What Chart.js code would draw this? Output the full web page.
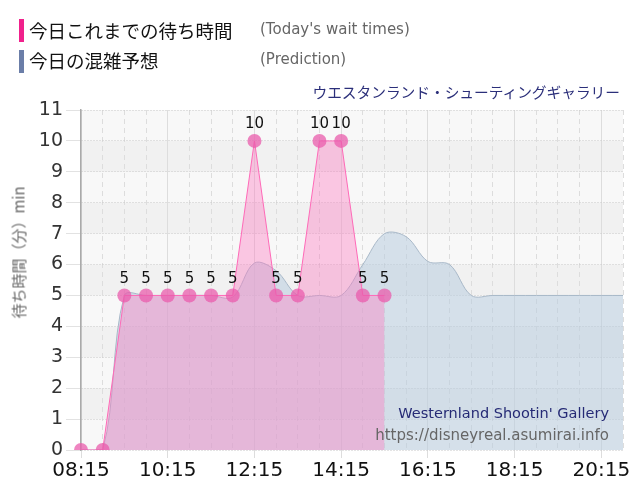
<!DOCTYPE html>
<html>
<head>
<meta charset="utf-8">
<script src="https://cdn.jsdelivr.net/npm/chart.js@4"></script>
<style>
  body { margin: 0; width: 640px; height: 500px; position: relative; background: #fff; overflow: hidden; }
  #wrap { position: absolute; left: 0; top: 0; width: 640px; height: 500px; }
  .txt { position: absolute; white-space: nowrap; }
  .jp { font-family: "Noto Sans CJK JP", sans-serif; }
  .en { font-family: "DejaVu Sans", sans-serif; }
  .bar { position: absolute; width: 5px; height: 23px; }
</style>
</head>
<body>
<div id="wrap"><canvas id="waitChart" width="640" height="500"></canvas></div>

<div class="bar" style="left:19px; top:19px; background:#f0218c;"></div>
<div class="txt jp" style="left:29px; top:17px; font-size:18.5px; color:#111;">今日これまでの待ち時間</div>
<div class="txt en" style="left:260px; top:20px; font-size:15px; color:#666;">(Today's wait times)</div>
<div class="bar" style="left:19px; top:50px; background:#6b7ea8;"></div>
<div class="txt jp" style="left:29px; top:47px; font-size:18.5px; color:#111;">今日の混雑予想</div>
<div class="txt en" style="left:260px; top:50px; font-size:15px; color:#666;">(Prediction)</div>

<div class="txt jp" style="right:20px; top:81px; font-size:14.7px; color:#2b2f7a;">ウエスタンランド・シューティングギャラリー</div>
<div class="txt jp" style="left:-57px; top:242px; width:150px; text-align:center; font-size:15px; color:#666; transform:rotate(-90deg);">待ち時間（分）min</div>

<div class="txt en" style="right:31px; top:405px; font-size:14.5px; color:#252a75;">Westernland Shootin' Gallery</div>
<div class="txt en" style="right:31px; top:426px; font-size:15px; color:#666;">https://disneyreal.asumirai.info</div>

<script>
"use strict";
{
  // every 30 minutes, 08:15 .. 20:45
  const timeLabels = ["08:15", "08:45", "09:15", "09:45", "10:15", "10:45", "11:15", "11:45",
    "12:15", "12:45", "13:15", "13:45", "14:15", "14:45", "15:15", "15:45", "16:15", "16:45",
    "17:15", "17:45", "18:15", "18:45", "19:15", "19:45", "20:15", "20:45"];
  const todayWait = [0, 0, 5, 5, 5, 5, 5, 5, 10, 5, 5, 10, 10, 5, 5];
  const prediction = [0, 0, 5, 5, 5, 5, 5, 4.95, 6.05, 5.8, 5, 5, 5, 6, 7, 6.9, 6.1, 6, 5, 5, 5, 5, 5, 5, 5, 5];
  const yTicks = [0, 1, 2, 3, 4, 5, 6, 7, 8, 9, 10, 11];

  // alternating background bands behind the grid
  const bandPlugin = {
    id: "bands",
    beforeDraw(chart) {
      const { ctx, chartArea: a, scales } = chart;
      ctx.save();
      ctx.fillStyle = "#f8f8f8";
      ctx.fillRect(a.left, a.top, a.right - a.left, a.bottom - a.top);
      ctx.fillStyle = "#f1f1f1";
      for (let v = 1; v < 11; v += 2) {
        const y1 = scales.y.getPixelForValue(v + 1);
        const y0 = scales.y.getPixelForValue(v);
        ctx.fillRect(a.left, y1, a.right - a.left, y0 - y1);
      }
      ctx.restore();
    }
  };

  // numbers above today's points
  const labelPlugin = {
    id: "pointLabels",
    afterDatasetsDraw(chart) {
      const { ctx } = chart;
      const meta = chart.getDatasetMeta(0);
      ctx.save();
      ctx.font = "15px 'DejaVu Sans'";
      ctx.fillStyle = "#111";
      ctx.textAlign = "center";
      ctx.textBaseline = "bottom";
      meta.data.forEach((pt, i) => {
        if (todayWait[i] > 0) ctx.fillText(String(todayWait[i]), pt.x, pt.y - 9);
      });
      ctx.restore();
    }
  };

  const canvas = document.getElementById("waitChart");
  new Chart(canvas, {
    type: "line",
    data: {
      labels: timeLabels,
      datasets: [
        {
          label: "今日これまでの待ち時間",
          data: todayWait,
          borderColor: "#ff6ab8",
          borderWidth: 1,
          backgroundColor: "rgba(252,122,192,0.4)",
          fill: "origin",
          tension: 0,
          pointRadius: 7,
          pointBorderWidth: 0,
          pointBackgroundColor: "rgba(234,92,172,0.75)"
        },
        {
          label: "今日の混雑予想",
          data: prediction,
          borderColor: "#a8b8c8",
          borderWidth: 1,
          backgroundColor: "rgba(184,204,222,0.55)",
          fill: "origin",
          tension: 0.35,
          pointRadius: 0
        }
      ]
    },
    options: {
      responsive: false,
      animation: false,
      events: [],
      layout: { padding: { top: 110, right: 17, left: 0, bottom: 0 } },
      plugins: { legend: { display: false }, tooltip: { enabled: false } },
      scales: {
        x: {
          grid: {
            color: "#dddddd",
            tickColor: (c) => (c.index % 4 === 0 ? "#dddddd" : "rgba(0,0,0,0)"),
            tickLength: 8
          },
          border: {
            display: false,
            dash: (c) => (c.index % 4 === 0 ? [] : [5, 4])
          },
          ticks: {
            autoSkip: false,
            maxRotation: 0,
            padding: 1,
            color: "#111",
            font: { family: "DejaVu Sans", size: 20 },
            callback: (v, i) => (i % 4 === 0 ? timeLabels[i] : "")
          },
          afterFit: (s) => { s.height = 50; }
        },
        y: {
          min: 0,
          max: 11,
          afterBuildTicks: (s) => { s.ticks = yTicks.map((v) => ({ value: v })); },
          grid: { color: "#c8c8c8", tickColor: "#e2e2e2", tickLength: 15 },
          border: { display: true, color: "#aaaaaa", width: 1.5, dash: [1, 2] },
          ticks: {
            padding: 3,
            color: "#333",
            font: { family: "DejaVu Sans", size: 19 }
          },
          afterFit: (s) => { s.width = 81; }
        }
      }
    },
    plugins: [bandPlugin, labelPlugin]
  });
}
</script>
</body>
</html>
